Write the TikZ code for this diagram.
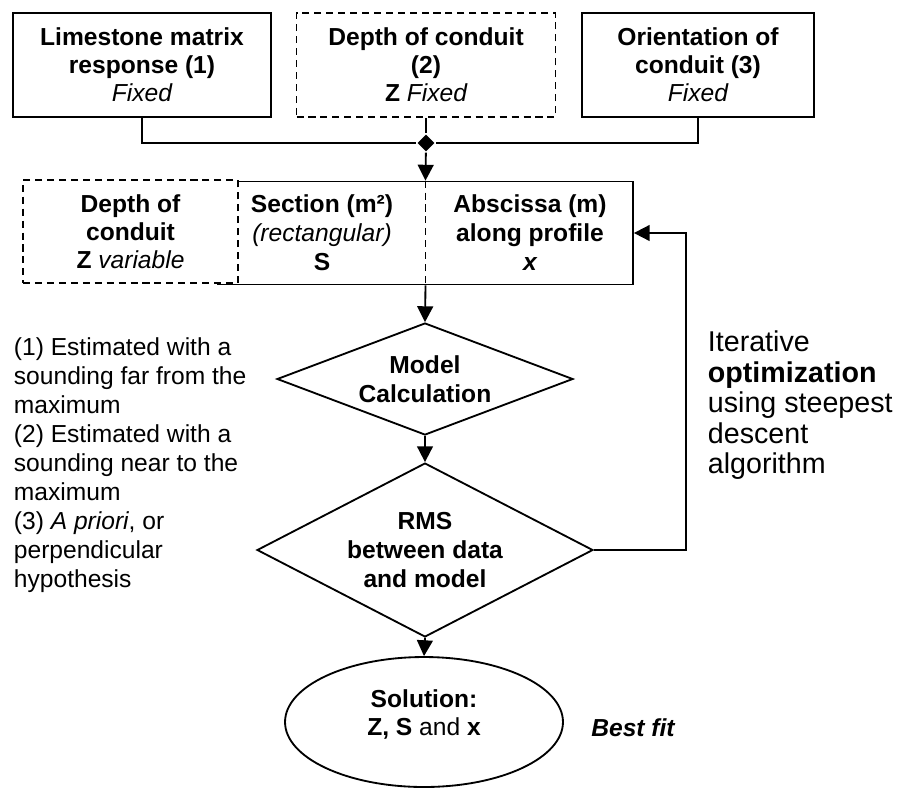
\documentclass[tikz,border=0pt]{standalone}
\usepackage{fontspec}
\setmainfont{Liberation Sans}
\usetikzlibrary{shapes.geometric,arrows.meta}

\begin{document}
\begin{tikzpicture}[x=0.02cm, y=-0.02cm, line width=1.05pt,
    box/.style={draw, rectangle, align=center, inner sep=0pt,
        font=\fontsize{14}{16}\selectfont\bfseries},
    dbox/.style={box, dash pattern=on 4pt off 2.8pt, fill=white},
    decision/.style={draw, diamond, align=center, inner sep=0pt,
        font=\fontsize{14}{16.5}\selectfont\bfseries},
    arr/.style={-{Triangle[width=9pt,length=9pt]}}]
    \useasboundingbox (0,0) rectangle (899,789);

    % Fixed inputs
    \node[box, minimum width=5.16cm, minimum height=2.08cm] (matrix) at (142,65)
        {Limestone matrix\\response (1)\\{\mdseries\itshape Fixed}};
    \node[dbox, minimum width=5.18cm, minimum height=2.08cm] (depth) at (426,65)
        {Depth of conduit\\(2)\\Z {\mdseries\itshape Fixed}};
    \node[box, minimum width=4.64cm, minimum height=2.08cm] (orient) at (698,65)
        {Orientation of\\conduit (3)\\{\mdseries\itshape Fixed}};

    % Junction
    \node[diamond, fill, inner sep=0pt, minimum size=10pt] (junc) at (426,143) {};
    \draw (matrix.south) |- (junc);
    \draw (orient.south) |- (junc);
    \draw (depth.south) -- (junc);

    % Parameters
    \node[box, minimum width=8.3cm, minimum height=2.06cm] (params) at (425.5,233) {};
    \draw[dash pattern=on 4pt off 2.8pt] (params.north) -- (params.south);
    \node[dbox, minimum width=4.3cm, minimum height=2.06cm] (depthvar) at (130.5,231.5)
        {Depth of\\conduit\\Z {\mdseries\itshape variable}};
    \node[align=center, font=\fontsize{14}{16.5}\selectfont\bfseries] (sect) at (322,233)
        {Section (m²)\\{\mdseries\itshape (rectangular)}\\S};
    \node[align=center, font=\fontsize{14}{16.5}\selectfont\bfseries] (absc) at (530,233)
        {Abscissa (m)\\along profile\\{\itshape x}};
    \draw[arr] (junc) -- (params.north);

    % Model and misfit
    \node[decision, aspect=2.64, minimum width=5.92cm, minimum height=2.24cm] (model) at (425,379)
        {Model\\Calculation};
    \node[decision, aspect=1.93, minimum width=6.72cm, minimum height=3.48cm] (rms) at (425,550)
        {RMS\\between data\\and model};
    \node[draw, ellipse, align=center, inner sep=0pt, text depth=11pt, minimum width=5.56cm,
        minimum height=2.6cm, font=\fontsize{14}{16}\selectfont\bfseries] (sol) at (424,722)
        {Solution:\\Z, S {\mdseries and} x};

    \draw[arr] (params.south) -- (model.north);
    \draw[arr] (model.south) -- (rms.north);
    \draw[arr] (rms.south) -- (sol.north);
    \draw[arr] (rms.east) -- ++(92,0) |- (params.east);

    % Notes
    \node[anchor=north west, align=left, inner sep=0pt, font=\fontsize{14}{16.5}\selectfont] (notes) at (13,337)
        {(1) Estimated with a\\sounding far from the\\maximum\\(2) Estimated with a\\sounding near to the\\maximum\\(3) \textit{A priori}, or\\perpendicular\\hypothesis};
    \node[anchor=north west, align=left, inner sep=0pt, font=\fontsize{16.3}{17.4}\selectfont] (iter) at (707,330)
        {Iterative\\\textbf{optimization}\\using steepest\\descent\\algorithm};
    \node[font=\fontsize{14}{16}\selectfont\bfseries\itshape] (fit) at (633,728) {Best fit};
\end{tikzpicture}
\end{document}
